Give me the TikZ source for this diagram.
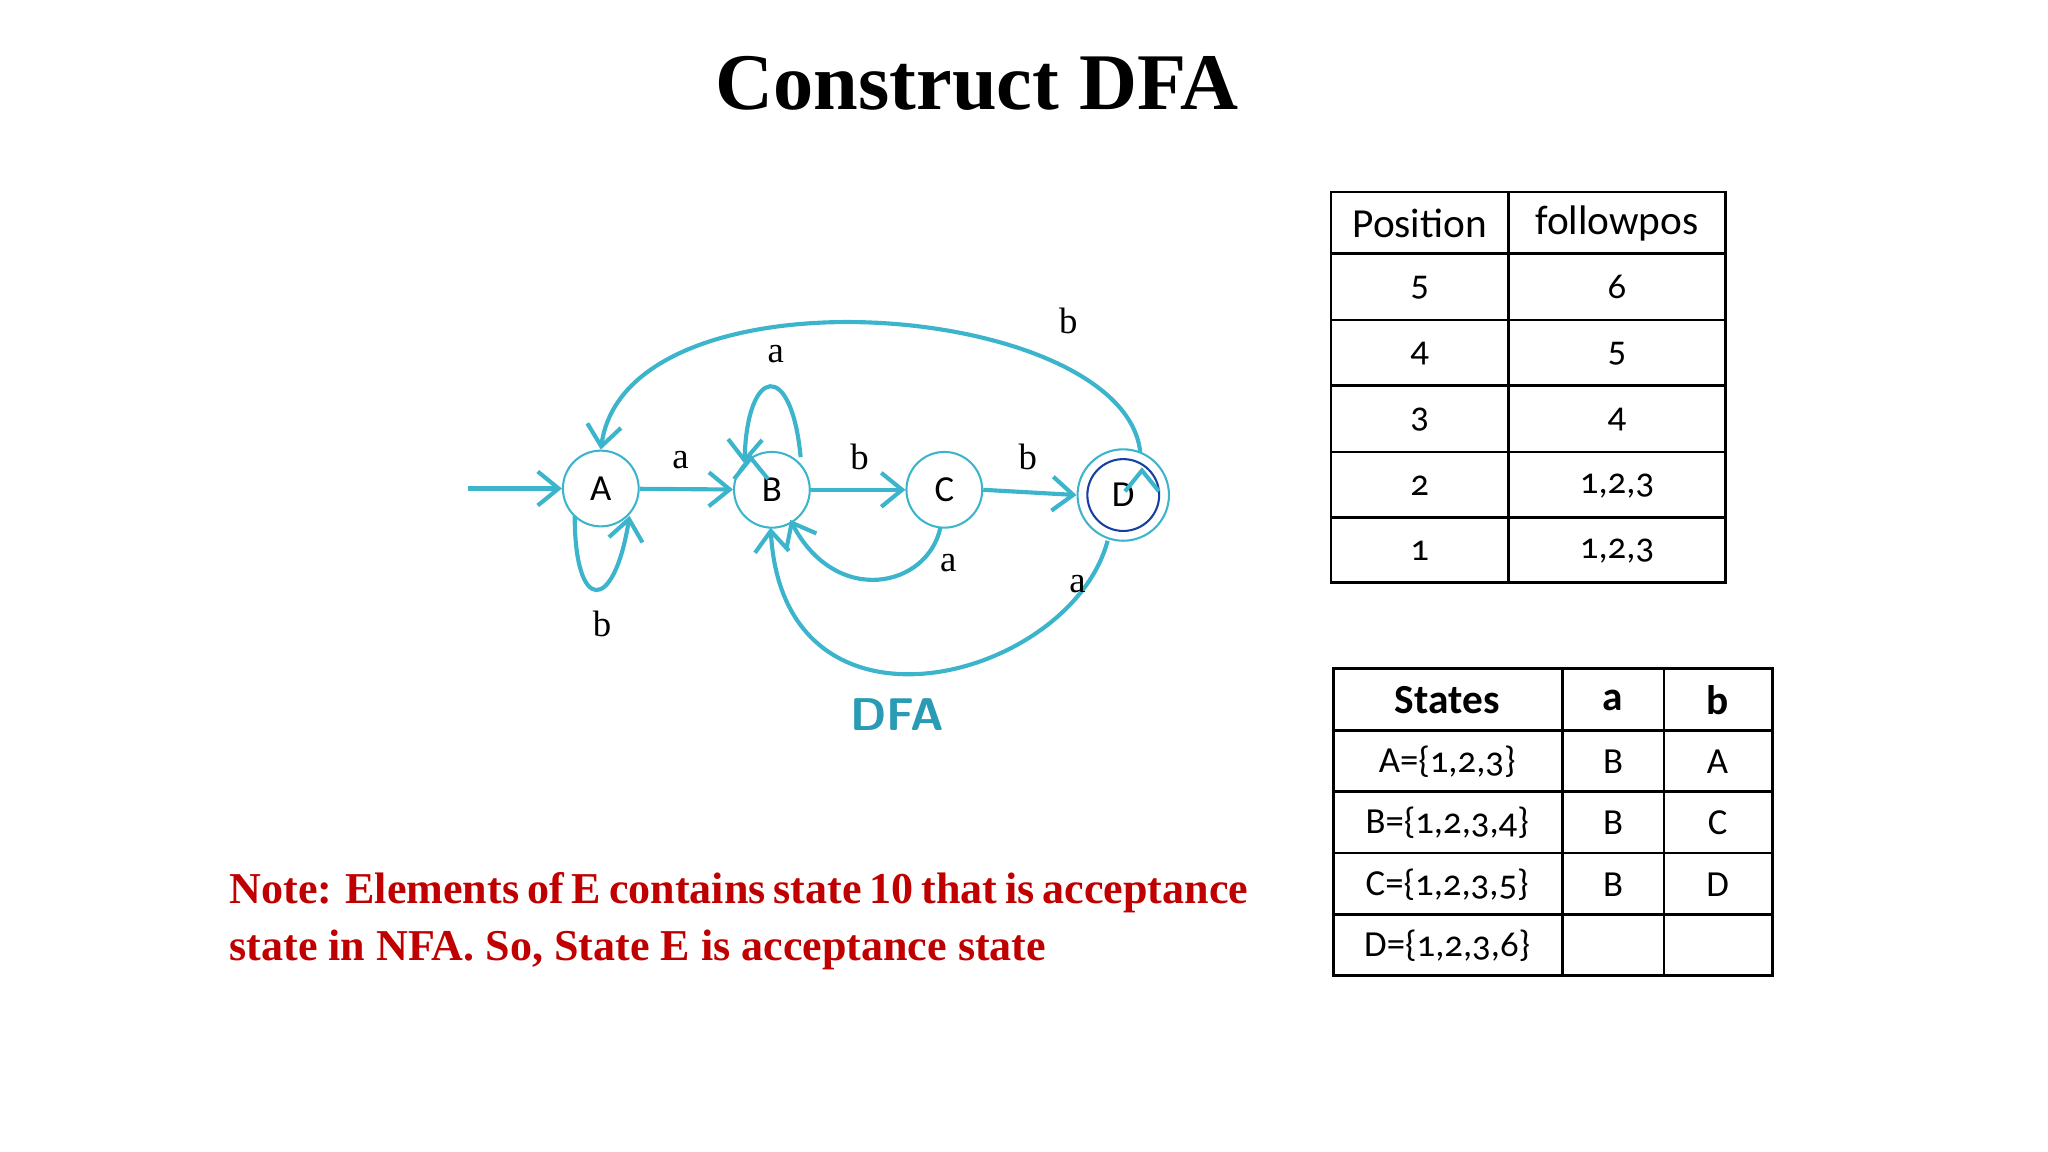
\documentclass[tikz,border=0pt]{standalone}
\usepackage{fontspec}
\setmainfont{Liberation Serif}
\newfontfamily\tabfont{Carlito}
\usetikzlibrary{arrows.meta}
\definecolor{dfa}{HTML}{3BB4CC}
\definecolor{dfatext}{HTML}{2A9BB5}
\definecolor{notered}{HTML}{C00000}
\tikzset{
  st/.style={circle,draw=dfa,line width=0.45pt,minimum size=58*0.1mm,inner sep=0pt,font=\tabfont\fontsize{8}{9}\selectfont},
  tr/.style={draw=dfa,line width=0.9pt,-{Straight Barb[length=1.6mm,width=2.6mm]}},
  lab/.style={font=\fontsize{8}{9}\selectfont},
  cell/.style={font=\tabfont\fontsize{8}{9}\selectfont,inner sep=0pt},
  grid/.style={line width=0.6pt}
}
\begin{document}
\begin{tikzpicture}[x=0.1mm,y=-0.1mm]
\useasboundingbox (0,0) rectangle (1568,882);
\node[font=\bfseries\fontsize{17.5}{20}\selectfont] (title) at (748,64) {Construct DFA};
% states
\node[st] (A) at (460,374) {A};
\node[st] (B) at (591,375) {B};
\node[st] (C) at (723,375) {C};
\node[st,minimum size=70*0.1mm] (D) at (860,379) {};
\node[st,minimum size=55*0.1mm,draw=blue!50!dfa!70!black] (Di) at (860,379) {D};
\coordinate (start) at (358,374);
\draw[tr] (start) -- (A);
\draw[tr] (A) -- (B);
\draw[tr] (B.east) -- (C.west);
\draw[tr] (C.east) -- (D.west);
\draw[tr] (D.north east) ++(-11,4) coordinate (d1);
\draw[tr] (873,346) .. controls (860,230) and (480,200) .. (A.north);
\draw[tr] (B.north) ++(-16,3) coordinate (b1);
\draw[tr] (613,350) .. controls (606,275) and (572,280) .. (570,355);
\draw[tr] (440,395) .. controls (440,470) and (470,470) .. (482,395);
\draw[tr] (720,404) .. controls (710,450) and (640,465) .. (605,398);
\draw[tr] (848,414) .. controls (820,520) and (600,580) .. (590,404);
\node[lab] (la1) at (521,352) {a};
\node[lab] (lb1) at (658,350) {b};
\node[lab] (lb2) at (787,350) {b};
\node[lab] (lb3) at (818,246) {b};
\node[lab] (la2) at (594,271) {a};
\node[lab] (lb4) at (461,478) {b};
\node[lab] (la3) at (726,431) {a};
\node[lab] (la4) at (825,447) {a};
\node[font=\sffamily\bfseries\fontsize{10}{12}\selectfont,text=dfatext] (dfa) at (687,547) {DFA};
% note
\node[anchor=north west,text width=780*0.1mm,align=justify,inner sep=0pt,text=notered,
  font=\bfseries\fontsize{9.6}{12.4}\selectfont] (note) at (175,667)
  {Note: Elements of E contains state 10 that is acceptance\linebreak state in NFA. So, State E is acceptance state};
% table 1
\draw[grid] (1019,147) rectangle (1321,446);
\draw[grid] (1155,147) -- (1155,446);
\foreach \y in {194,245,295,346,396} \draw[grid] (1019,\y) -- (1321,\y);
\node[cell,font=\tabfont\fontsize{9}{10}\selectfont] (h1) at (1087,171) {Position};
\node[cell,font=\tabfont\fontsize{9}{10}\selectfont] (h2) at (1238,171) {followpos};
\foreach \p/\f/\y in {5/6/220,4/5/271,3/4/321,2/{1,2,3}/372,1/{1,2,3}/422}{
  \node[cell] at (1087,\y) {\addfontfeature{Numbers=OldStyle}\p};
  \node[cell] at (1238,\y) {\addfontfeature{Numbers=OldStyle}\f};
}
% table 2
\draw[grid] (1021,512) rectangle (1357,747);
\draw[grid] (1196,512) -- (1196,747);
\draw[grid] (1274,512) -- (1274,747);
\foreach \y in {559,606,653,700} \draw[grid] (1021,\y) -- (1357,\y);
\node[cell,font=\tabfont\bfseries\fontsize{9}{10}\selectfont] (s1) at (1108,536) {States};
\node[cell,font=\tabfont\bfseries\fontsize{9}{10}\selectfont] (s2) at (1235,536) {a};
\node[cell,font=\tabfont\bfseries\fontsize{9}{10}\selectfont] (s3) at (1315,536) {b};
\foreach \s/\a/\b/\y in {{A=\{1,2,3\}}/B/A/583,{B=\{1,2,3,4\}}/B/C/630,{C=\{1,2,3,5\}}/B/D/677,{D=\{1,2,3,6\}}//{}/724}{
  \node[cell] at (1108,\y) {\addfontfeature{Numbers=OldStyle}\s};
  \node[cell] at (1235,\y) {\a};
  \node[cell] at (1315,\y) {\b};
}
\end{tikzpicture}
\end{document}
